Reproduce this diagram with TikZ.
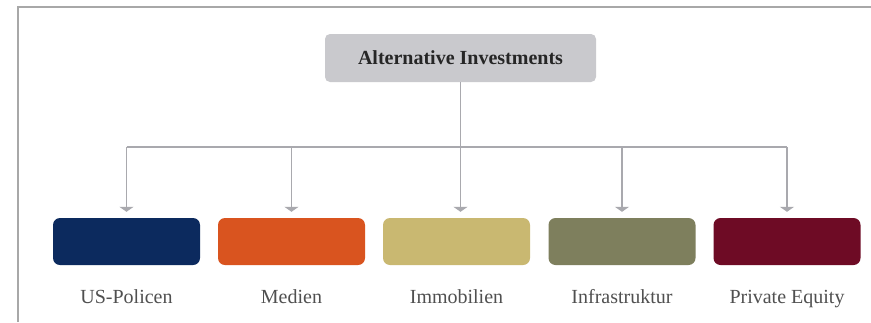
\documentclass[tikz,border=0pt]{standalone}
\usepackage{fontspec}
\setmainfont{Liberation Serif}
\usetikzlibrary{arrows.meta}
\definecolor{frame}{HTML}{A8A8A8}
\definecolor{conn}{HTML}{A9A9AE}
\definecolor{topfill}{HTML}{C9C9CD}
\definecolor{cnavy}{HTML}{0C2A5E}
\definecolor{corange}{HTML}{D9541F}
\definecolor{ckhaki}{HTML}{C9B871}
\definecolor{colive}{HTML}{7E7F5D}
\definecolor{cmaroon}{HTML}{6E0B25}
\definecolor{labelc}{HTML}{505050}
\tikzset{
  catbox/.style={rounded corners=7pt, minimum width=147pt, minimum height=47pt, inner sep=0pt, draw=none},
  catlabel/.style={text=labelc, font=\fontsize{20}{22}\selectfont, inner sep=0pt, anchor=base},
  conn/.style={draw=conn, line width=1.6pt},
  arr/.style={conn, -{Triangle[width=14pt,length=5pt]}, shorten >=6pt},
}
\begin{document}
\begin{tikzpicture}[x=1pt,y=-1pt]
\useasboundingbox (0,0) rectangle (871,322);
\fill[white] (0,0) rectangle (871,322);
\draw[frame, line width=1.8pt] (18,322) -- (18,7) -- (871,7);
\node[fill=topfill, rounded corners=5pt, minimum width=271pt, minimum height=48pt, inner sep=0pt,
      font=\fontsize{20}{22}\selectfont\bfseries, text=black!85] (top) at (460.5,58) {Alternative Investments};
\node[catbox, fill=cnavy]   (b1) at (126.5,241.5) {};
\node[catbox, fill=corange] (b2) at (291.5,241.5) {};
\node[catbox, fill=ckhaki]  (b3) at (456.5,241.5) {};
\node[catbox, fill=colive]  (b4) at (622,241.5) {};
\node[catbox, fill=cmaroon] (b5) at (787,241.5) {};
\node[catlabel] (l1) at (126.5,303) {US-Policen};
\node[catlabel] (l2) at (291.5,303) {Medien};
\node[catlabel] (l3) at (456.5,303) {Immobilien};
\node[catlabel] (l4) at (622,303) {Infrastruktur};
\node[catlabel] (l5) at (787,303) {Private Equity};
\coordinate (bus) at (0,147);
\draw[conn] (top.south) -- (top.south |- bus);
\draw[conn] (b1.north |- bus) -- (b5.north |- bus);
\foreach \i in {1,2,4,5} {
  \draw[arr] (b\i.north |- bus) -- (b\i.north);
}
\draw[arr] (top.south |- bus) -- (top.south |- b3.north);
\end{tikzpicture}
\end{document}
